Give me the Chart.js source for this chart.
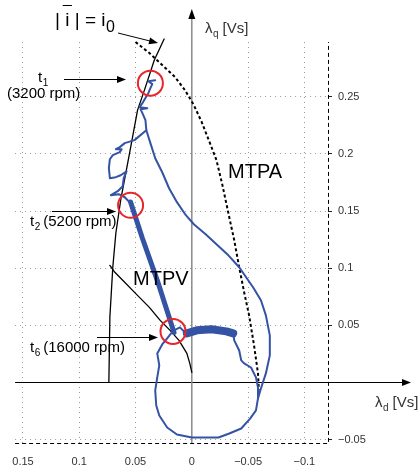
<!DOCTYPE html>
<html>
<head>
<meta charset="utf-8">
<script src="https://cdn.jsdelivr.net/npm/chart.js@4/dist/chart.umd.min.js"></script>
<style>
  body { margin: 0; background: #fff; }
  #c { display: block; }
</style>
</head>
<body>
<canvas id="c" width="420" height="474"></canvas>
<script>
// flux plane: lambda_d (x, reversed) / lambda_q (y), values in Vs
const dTicks = [0.15, 0.1, 0.05, 0, -0.05, -0.1];
const qTicks = [0.25, 0.2, 0.15, 0.1, 0.05, -0.05];

// current limit |i| = i0
const limitD = [0.0246, 0.0333, 0.0421, 0.0482, 0.0553, 0.0632, 0.0675, 0.0702, 0.0728, 0.0737];
const limitQ = [0.3006, 0.2822, 0.2559, 0.2384, 0.2007, 0.1595, 0.1306, 0.1008, 0.0570, 0];

// MTPV
const mtpvD = [0.0728, 0.0684, 0.0614, 0.0500, 0.0377, 0.0281, 0.0193, 0.0114, 0.0044, 0.0018, 0];
const mtpvQ = [0.1025, 0.0964, 0.0894, 0.0780, 0.0657, 0.0543, 0.0456, 0.0368, 0.0254, 0.0167, 0.0088];

// MTPA (dashed)
const mtpaD = [0.0500, 0.0377, 0.0263, 0.0149, 0.0061, -0.0018, -0.0088, -0.0158, -0.0219, -0.0272,
  -0.0325, -0.0377, -0.0421, -0.0465, -0.0509, -0.0553, -0.0588, -0.0596];
const mtpaQ = [0.2980, 0.2883, 0.2778, 0.2673, 0.2559, 0.2428, 0.2279, 0.2103, 0.1946, 0.1727,
  0.1481, 0.1245, 0.1008, 0.0789, 0.0587, 0.0324, 0.0079, -0.0070];

// measured trajectory, thin main path (t1 -> outer loop -> lower loop -> t6)
const trajD = [0.0325, 0.0386, 0.0351, 0.0368, 0.0386, 0.0412, 0.0439, 0.0465, 0.0395, 0.0456, 0.0439, 0.0412, 0.0404,
  0.0368, 0.0325, 0.0263, 0.0202, 0.0132, 0.0053, -0.0018, -0.0123, -0.0219, -0.0325, -0.0421, -0.0544, -0.0614,
  -0.0658, -0.0693, -0.0693, -0.0658, -0.0614, -0.0588,
  -0.0570, -0.0518, -0.0439, -0.0333, -0.0237, 0, 0.0132, 0.0219, 0.0289, 0.0316, 0.0325, 0.0307, 0.0289, 0.0307,
  0.0263, 0.0219, 0.0184, 0.0158, 0.0105, 0.0079, 0.0044];
const trajQ = [0.2646, 0.2637, 0.2611, 0.2576, 0.2532, 0.2489, 0.2445, 0.2410, 0.2401, 0.2392, 0.2357, 0.2296, 0.2208,
  0.2095, 0.1963, 0.1840, 0.1700, 0.1578, 0.1464, 0.1385, 0.1297, 0.1209, 0.1113, 0.1008, 0.0833, 0.0719,
  0.0587, 0.0412, 0.0237, 0.0079, -0.0053, -0.0140,
  -0.0245, -0.0316, -0.0403, -0.0447, -0.0482, -0.0482, -0.0456, -0.0394, -0.0289, -0.0202, -0.0070, 0.0044, 0.0149, 0.0254,
  0.0333, 0.0386, 0.0429, 0.0456, 0.0482, 0.0456, 0.0429];

// wiggles along the current limit, down to t2
const wiggleD = [0.0404, 0.0509, 0.0596, 0.0640, 0.0675, 0.0623, 0.0640, 0.0702, 0.0728, 0.0737, 0.0728, 0.0675, 0.0632,
  0.0579, 0.0605, 0.0614, 0.0658, 0.0719, 0.0649, 0.0596, 0.0561, 0.0535];
const wiggleQ = [0.2208, 0.2121, 0.2095, 0.2060, 0.2042, 0.2042, 0.2016, 0.1990, 0.1954, 0.1876, 0.1788, 0.1797, 0.1814,
  0.1849, 0.1788, 0.1718, 0.1674, 0.1639, 0.1648, 0.1621, 0.1586, 0.1551];

// t2 -> t6 along MTPV (thick)
const rampD = [0.0544, 0.0535, 0.0439, 0.0307, 0.0158];
const rampQ = [0.1580, 0.1551, 0.1262, 0.0894, 0.0438];

// steady blob after t6 and its tail
const blobD = [0.0044, -0.0044, -0.0175, -0.0307, -0.0368];
const blobQ = [0.0429, 0.0456, 0.0465, 0.0447, 0.0429];
const tailD = [-0.0368, -0.0377, -0.0421, -0.0439, -0.0465, -0.0526, -0.0570, -0.0588, -0.0588];
const tailQ = [0.0429, 0.0368, 0.0280, 0.0193, 0.0167, 0.0131, 0.0044, -0.0044, -0.0140];

// marked instants t1, t2, t6
const markD = [0.0368, 0.0544, 0.0167];
const markQ = [0.2620, 0.1551, 0.0447];

const blue = '#3453a5';
const font = '"Liberation Sans", Arial, sans-serif';

function pts(xs, ys) {
  return xs.map((v, i) => ({ x: v, y: ys[i] }));
}
function fmt(v) {
  return parseFloat(v.toFixed(2)).toString().replace('-', '\u2212');
}

function arrow(ctx, x1, y1, x2, y2) {
  const a = Math.atan2(y2 - y1, x2 - x1), L = 9, W = 3.5;
  ctx.beginPath();
  ctx.moveTo(x1, y1);
  ctx.lineTo(x2 - Math.cos(a) * L * 0.8, y2 - Math.sin(a) * L * 0.8);
  ctx.stroke();
  ctx.beginPath();
  ctx.moveTo(x2, y2);
  ctx.lineTo(x2 - Math.cos(a) * L - Math.sin(a) * W, y2 - Math.sin(a) * L + Math.cos(a) * W);
  ctx.lineTo(x2 - Math.cos(a) * L + Math.sin(a) * W, y2 - Math.sin(a) * L - Math.cos(a) * W);
  ctx.closePath();
  ctx.fill();
}

function subText(ctx, base, sub, x, y, size, subSize) {
  ctx.font = size + 'px ' + font;
  ctx.fillText(base, x, y);
  const w = ctx.measureText(base).width;
  ctx.font = subSize + 'px ' + font;
  ctx.fillText(sub, x + w + 0.5, y + 4);
  return x + w + 0.5 + ctx.measureText(sub).width;
}

const overlay = {
  id: 'overlay',
  beforeDatasetsDraw(chart) {
    const { ctx, chartArea: a, scales: { x, y } } = chart;
    const x0 = x.getPixelForValue(0), y0 = y.getPixelForValue(0);
    ctx.save();
    // dashed frame, right and bottom
    ctx.strokeStyle = '#000';
    ctx.lineWidth = 1;
    ctx.setLineDash([4, 3]);
    ctx.beginPath();
    ctx.moveTo(a.left, a.bottom + 0.5);
    ctx.lineTo(a.right + 0.5, a.bottom + 0.5);
    ctx.lineTo(a.right + 0.5, a.top);
    ctx.stroke();
    ctx.setLineDash([]);
    // lambda_d axis
    ctx.fillStyle = '#000';
    arrow(ctx, a.left, Math.round(y0) + 0.5, 411, Math.round(y0) + 0.5);
    // lambda_q axis
    ctx.strokeStyle = '#8a8a8a';
    ctx.lineWidth = 1.5;
    ctx.beginPath();
    ctx.moveTo(x0, a.bottom);
    ctx.lineTo(x0, 16);
    ctx.stroke();
    ctx.beginPath();
    ctx.moveTo(x0, 9);
    ctx.lineTo(x0 - 3.5, 19);
    ctx.lineTo(x0 + 3.5, 19);
    ctx.closePath();
    ctx.fill();
    ctx.restore();
  },
  afterDraw(chart) {
    const { ctx } = chart;
    ctx.save();
    ctx.fillStyle = '#000';
    ctx.strokeStyle = '#000';
    ctx.lineWidth = 1;
    ctx.textBaseline = 'alphabetic';

    // |i| = i0
    ctx.font = '19px ' + font;
    const lx = 55;
    ctx.fillText('| i | = i', lx, 26);
    const ix = lx + ctx.measureText('| ').width;
    const iw = ctx.measureText('i').width;
    const endX = lx + ctx.measureText('| i | = i').width;
    ctx.beginPath();
    ctx.moveTo(ix - 2.5, 5.5);
    ctx.lineTo(ix + iw + 2.5, 5.5);
    ctx.stroke();
    ctx.font = '16px ' + font;
    ctx.fillText('0', endX + 0.5, 32);
    arrow(ctx, 118, 33, 158, 43);

    // t1
    subText(ctx, 't', '1', 38, 82, 15, 10);
    ctx.font = '15px ' + font;
    ctx.fillText('(3200 rpm)', 7, 98);
    arrow(ctx, 64, 79.5, 126, 79.5);

    // t2
    let e = subText(ctx, 't', '2', 30, 226, 15, 10);
    ctx.font = '15px ' + font;
    ctx.fillText('(5200 rpm)', e + 3, 226);
    arrow(ctx, 52, 211.5, 116, 211.5);

    // t6
    e = subText(ctx, 't', '6', 30, 352, 15, 10);
    ctx.font = '15px ' + font;
    ctx.fillText('(16000 rpm)', e + 3, 352);
    arrow(ctx, 97, 337.5, 158, 337.5);

    // curve names
    ctx.font = '20px ' + font;
    ctx.fillText('MTPA', 228, 178);
    ctx.fillText('MTPV', 133, 285);

    // axis titles
    ctx.fillStyle = '#333';
    e = subText(ctx, '\u03bb', 'q', 205, 33, 15, 10);
    ctx.font = '15px ' + font;
    ctx.fillText('[Vs]', e + 4, 33);
    e = subText(ctx, '\u03bb', 'd', 375, 407, 15, 10);
    ctx.font = '15px ' + font;
    ctx.fillText('[Vs]', e + 4, 407);
    ctx.restore();
  }
};

const line = (data, color, width, extra) => Object.assign({
  data: data,
  showLine: true,
  borderColor: color,
  borderWidth: width,
  pointRadius: 0,
  pointHoverRadius: 0,
  fill: false,
  tension: 0,
  borderCapStyle: 'round',
  borderJoinStyle: 'round'
}, extra || {});

new Chart(document.getElementById('c'), {
  type: 'scatter',
  data: {
    datasets: [
      {
        data: pts(markD, markQ),
        pointRadius: 12.5,
        pointHoverRadius: 12.5,
        pointBorderWidth: 2,
        pointBorderColor: '#e8262a',
        pointBackgroundColor: 'rgba(0,0,0,0)',
        showLine: false
      },
      line(pts(blobD, blobQ), blue, 8),
      line(pts(rampD, rampQ), blue, 5),
      line(pts(trajD, trajQ), blue, 2),
      line(pts(wiggleD, wiggleQ), blue, 2),
      line(pts(tailD, tailQ), blue, 2),
      line(pts(limitD, limitQ), '#000', 1.3, { clip: false }),
      line(pts(mtpvD, mtpvQ), '#000', 1.3),
      line(pts(mtpaD, mtpaQ), '#000', 2, { borderDash: [3, 2.5], borderCapStyle: 'butt', clip: false })
    ]
  },
  options: {
    responsive: false,
    animation: false,
    events: [],
    layout: { padding: { left: 11, top: 42, right: 0, bottom: 0 }, autoPadding: false },
    plugins: { legend: { display: false }, tooltip: { enabled: false } },
    scales: {
      x: {
        type: 'linear',
        position: 'bottom',
        reverse: true,
        min: -0.121,
        max: 0.157,
        afterFit: s => { s.height = 31; },
        border: { display: false, dash: [1, 4] },
        grid: { color: '#999', lineWidth: 1, drawTicks: false },
        ticks: {
          stepSize: 0.05,
          includeBounds: false,
          padding: 12,
          color: '#333',
          font: { family: font, size: 11 },
          maxRotation: 0,
          autoSkip: false,
          callback: v => fmt(v)
        }
      },
      y: {
        type: 'linear',
        position: 'right',
        min: -0.053,
        max: 0.298,
        afterFit: s => { s.width = 92; },
        border: { display: false, dash: [1, 4] },
        grid: { color: '#999', lineWidth: 1, drawTicks: true, tickLength: 4, tickColor: '#222', tickBorderDash: [] },
        ticks: {
          stepSize: 0.05,
          includeBounds: false,
          padding: 6,
          color: '#333',
          font: { family: font, size: 11 },
          autoSkip: false,
          callback: v => (Math.abs(v) < 1e-9 ? '' : fmt(v))
        }
      }
    }
  },
  plugins: [overlay]
});
</script>
</body>
</html>
